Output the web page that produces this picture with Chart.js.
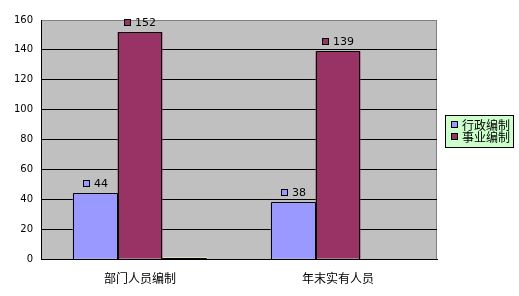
<!DOCTYPE html>
<html><head><meta charset="utf-8">
<script src="https://cdn.jsdelivr.net/npm/chart.js@4/dist/chart.umd.min.js"></script>
<style>html,body{margin:0;padding:0;background:#fff}#wrap{width:519px;height:296px}</style>
</head><body><div id="wrap"><canvas id="c" width="519" height="296"></canvas></div>
<script>
const categories = ['部门人员编制', '年末实有人员'];
const seriesNames = ['行政编制', '事业编制', ''];
const xingzheng = [44, 38];
const shiye = [152, 139];
const other = [1, 0];
const yTicks = [0, 20, 40, 60, 80, 100, 120, 140, 160];
const colors = ['#9999FF', '#993366', '#FFFFCC'];

const plotBg = {
  id: 'plotBg',
  beforeDraw(chart) {
    const {ctx, chartArea: a} = chart;
    ctx.save();
    ctx.fillStyle = '#C0C0C0';
    ctx.fillRect(a.left, a.top, a.right - a.left, a.bottom - a.top);
    ctx.strokeStyle = '#808080';
    ctx.lineWidth = 1;
    ctx.strokeRect(a.left + 0.5, a.top + 0.5, a.right - a.left - 1, a.bottom - a.top);
    ctx.restore();
  },
  afterDatasetsDraw(chart) {
    const ctx = chart.ctx;
    ctx.save();
    // crisp black bar outlines
    ctx.strokeStyle = '#000';
    ctx.lineWidth = 1;
    chart.data.datasets.forEach((ds, d) => {
      chart.getDatasetMeta(d).data.forEach((bar, i) => {
        if (!ds.data[i]) return;
        const l = Math.round(bar.x - bar.width / 2) + 0.5;
        const r = Math.round(bar.x + bar.width / 2) - 0.5;
        const t = Math.round(bar.y) + 0.5;
        const b = Math.round(bar.base);
        ctx.beginPath();
        ctx.moveTo(l, b); ctx.lineTo(l, t); ctx.lineTo(r, t); ctx.lineTo(r, b);
        ctx.stroke();
      });
    });
    ctx.font = '11px "DejaVu Sans", sans-serif';
    ctx.textBaseline = 'middle';
    for (let d = 0; d < 2; d++) {
      const meta = chart.getDatasetMeta(d);
      meta.data.forEach((bar, i) => {
        const v = chart.data.datasets[d].data[i];
        const txt = String(v);
        const tw = ctx.measureText(txt).width;
        const total = 7 + 4 + tw;
        const x0 = Math.round(bar.x - total / 2);
        const y = Math.round(bar.y - 10);
        ctx.fillStyle = colors[d];
        ctx.fillRect(x0, y - 3, 7, 7);
        ctx.strokeStyle = '#000';
        ctx.lineWidth = 1;
        ctx.strokeRect(x0 + 0.5, y - 3 + 0.5, 6, 6);
        ctx.fillStyle = '#000';
        ctx.textAlign = 'left';
        ctx.fillText(txt, x0 + 11, y + 1);
      });
    }
    // legend
    const lx = 445, ly = 115, lw = 68, lh = 32;
    ctx.fillStyle = '#CCFFCC';
    ctx.fillRect(lx, ly, lw, lh);
    ctx.strokeStyle = '#000';
    ctx.strokeRect(lx + 0.5, ly + 0.5, lw, lh);
    ctx.font = '12px "Noto Sans CJK SC", sans-serif';
    for (let d = 0; d < 2; d++) {
      const yy = ly + 9 + d * 12;
      ctx.fillStyle = colors[d];
      ctx.fillRect(lx + 6, yy - 3, 7, 7);
      ctx.strokeStyle = '#000';
      ctx.strokeRect(lx + 6.5, yy - 2.5, 6, 6);
      ctx.fillStyle = '#000';
      ctx.fillText(seriesNames[d], lx + 17, yy + 1);
    }
    ctx.restore();
  }
};

new Chart(document.getElementById('c'), {
  type: 'bar',
  data: {
    labels: categories,
    datasets: [
      {label: seriesNames[0], data: xingzheng, backgroundColor: colors[0], borderWidth: 0},
      {label: seriesNames[1], data: shiye, backgroundColor: colors[1], borderWidth: 0},
      {label: seriesNames[2], data: other, backgroundColor: colors[2], borderWidth: 0}
    ]
  },
  options: {
    responsive: false,
    animation: false,
    datasets: {bar: {categoryPercentage: 0.68, barPercentage: 1.0}},
    layout: {padding: {left: 0, right: 82, top: 20, bottom: 0}},
    plugins: {legend: {display: false}, tooltip: {enabled: false}},
    scales: {
      x: {
        grid: {display: false},
        border: {display: true, color: '#000', width: 1},
        ticks: {color: '#000', font: {family: '"Noto Sans CJK SC", sans-serif', size: 12}, padding: 4},
        afterFit(s) { s.height = 37; }
      },
      y: {
        min: 0, max: 160,
        afterBuildTicks(s) { s.ticks = yTicks.map(v => ({value: v})); },
        grid: {color: ctx => ctx.tick && ctx.tick.value === 160 ? '#808080' : '#000', drawTicks: false, lineWidth: 1},
        border: {display: true, color: '#000', width: 1},
        ticks: {color: '#000', font: {family: '"DejaVu Sans", sans-serif', size: 10}, padding: 8},
        afterFit(s) { s.width = 41; }
      }
    }
  },
  plugins: [plotBg]
});
</script></body></html>
